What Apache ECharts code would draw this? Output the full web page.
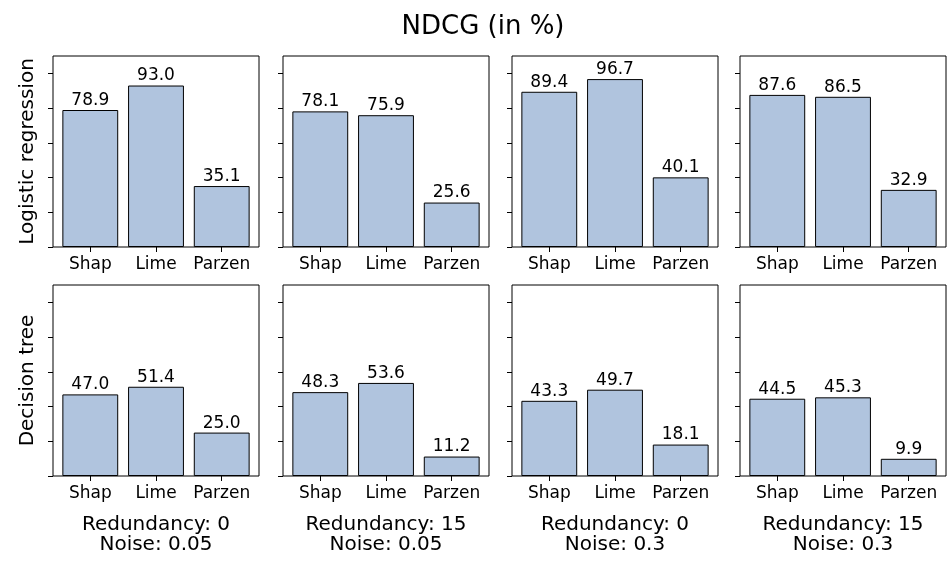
<!DOCTYPE html>
<html>
<head>
<meta charset="utf-8">
<script src="https://cdn.jsdelivr.net/npm/echarts@6/dist/echarts.min.js"></script>
<style>html,body{margin:0;padding:0;background:#fff;}#c{width:951px;height:564px;}</style>
</head>
<body>
<div id="c"></div>
<script>
const categories = ['Shap', 'Lime', 'Parzen'];
const rowNames = ['Logistic regression', 'Decision tree'];
const redundancyLabels = ['Redundancy: 0', 'Redundancy: 15', 'Redundancy: 0', 'Redundancy: 15'];
const noiseLabels = ['Noise: 0.05', 'Noise: 0.05', 'Noise: 0.3', 'Noise: 0.3'];
const logisticValues = [
  [78.9, 93.0, 35.1],
  [78.1, 75.9, 25.6],
  [89.4, 96.7, 40.1],
  [87.6, 86.5, 32.9]
];
const treeValues = [
  [47.0, 51.4, 25.0],
  [48.3, 53.6, 11.2],
  [43.3, 49.7, 18.1],
  [44.5, 45.3, 9.9]
];
const yTicks = [0, 20, 40, 60, 80, 100];
const titleText = 'NDCG (in %)';

const FONT = 'DejaVu Sans';
const gridLefts = [53, 283, 512, 740];
const gridTops = [56, 285];
const gridW = 206, gridH = 191;
const xMin = -0.5675, xMax = 2.5675;
const barW = gridW * 0.85 / (xMax - xMin);

const grids = [], xAxes = [], yAxes = [], series = [];
const rows = [logisticValues, treeValues];
let idx = 0;
rows.forEach((rowVals, r) => {
  rowVals.forEach((vals, c) => {
    grids.push({
      left: gridLefts[c], top: gridTops[r], width: gridW, height: gridH,
      show: true, borderColor: '#000', borderWidth: 1, backgroundColor: 'transparent',
      containLabel: false
    });
    const xa = {
      type: 'value', gridIndex: idx, min: xMin, max: xMax,
      axisLine: { show: false, onZero: false },
      splitLine: { show: false },
      axisTick: { show: true, customValues: [0, 1, 2], length: 5, lineStyle: { color: '#000', width: 1 } },
      axisLabel: {
        customValues: [0, 1, 2], margin: 9,
        formatter: v => categories[Math.round(v)],
        color: '#000', fontFamily: FONT, fontSize: 17
      }
    };
    if (r === 1) {
      xa.name = redundancyLabels[c] + '\n' + noiseLabels[c];
      xa.nameLocation = 'middle';
      xa.nameGap = 39;
      xa.nameTextStyle = { color: '#000', fontFamily: FONT, fontSize: 20, lineHeight: 20 };
    }
    xAxes.push(xa);
    const ya = {
      type: 'value', gridIndex: idx, min: 0, max: 110,
      axisLine: { show: false, onZero: false },
      splitLine: { show: false },
      axisTick: { show: true, customValues: yTicks, length: 5, lineStyle: { color: '#000', width: 1 } },
      axisLabel: { show: false, customValues: yTicks }
    };
    if (c === 0) {
      ya.name = rowNames[r];
      ya.nameLocation = 'middle';
      ya.nameGap = 15;
      ya.nameTextStyle = { color: '#000', fontFamily: FONT, fontSize: 20 };
    }
    yAxes.push(ya);
    series.push({
      type: 'bar', xAxisIndex: idx, yAxisIndex: idx,
      barWidth: barW,
      data: vals.map((v, i) => [i, v]),
      itemStyle: { color: '#b0c4de', borderColor: '#000', borderWidth: 1 },
      label: {
        show: true, position: 'top', distance: 1,
        formatter: p => p.value[1].toFixed(1),
        color: '#000', fontFamily: FONT, fontSize: 17
      },
      silent: true, animation: false
    });
    idx++;
  });
});

const chart = echarts.init(document.getElementById('c'), null, { renderer: 'canvas' });
chart.setOption({
  backgroundColor: '#fff',
  animation: false,
  title: {
    text: titleText, left: 478, top: 9, textAlign: 'center',
    textStyle: { color: '#000', fontFamily: FONT, fontSize: 26, fontWeight: 'normal' }
  },
  grid: grids, xAxis: xAxes, yAxis: yAxes, series: series
});
</script>
</body>
</html>
